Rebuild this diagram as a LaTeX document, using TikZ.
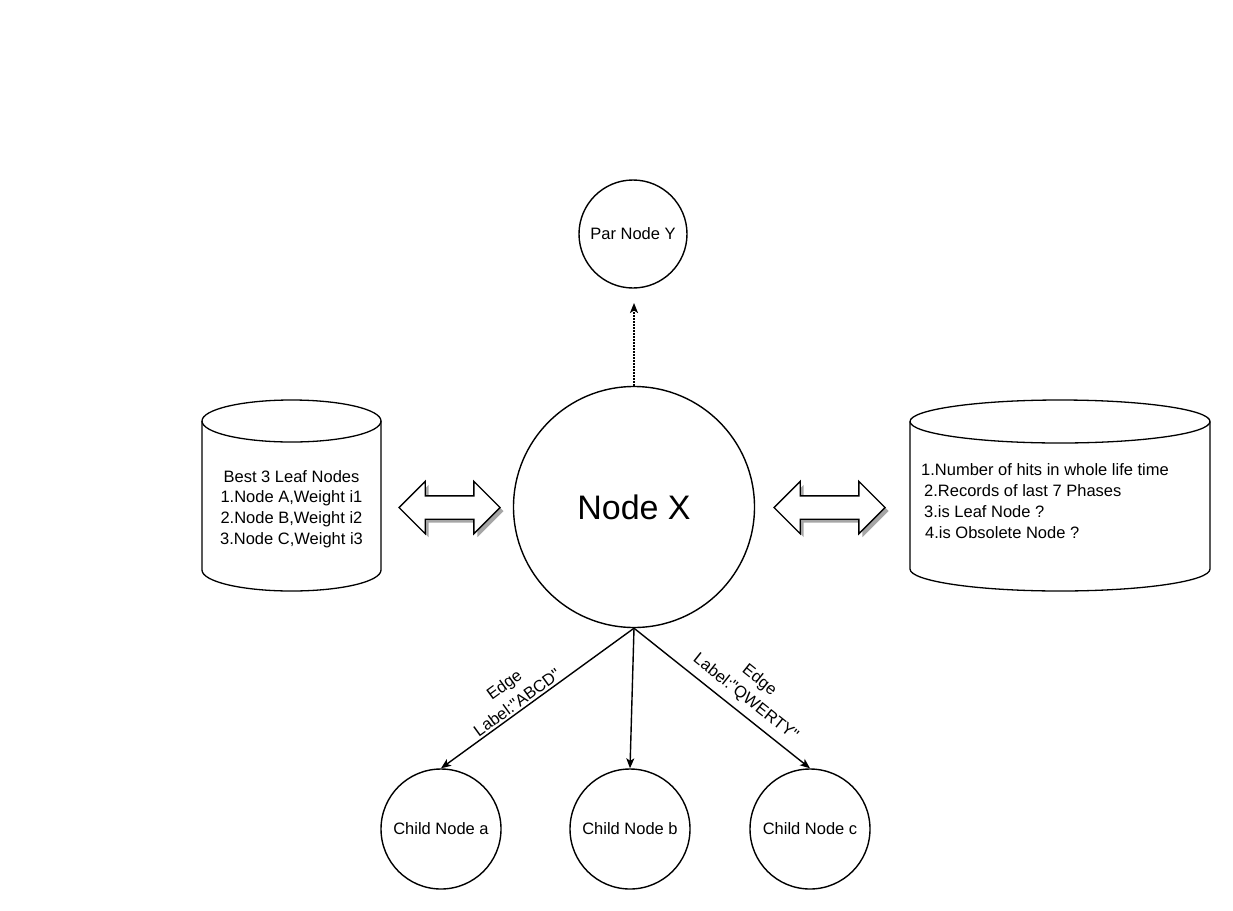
\documentclass[tikz,border=0pt]{standalone}
\usepackage{fontspec}
\setmainfont{Liberation Sans}
\newfontfamily\lsans{Liberation Sans}
\usetikzlibrary{arrows.meta,shapes.arrows,shadows}
\begin{document}
\begin{tikzpicture}[x=1pt,y=-1pt,
  circ/.style={draw,circle,line width=1.4pt,inner sep=0pt,font=\fontsize{16.5}{20}\selectfont},
  cyl/.style={line width=1.3pt},
  txt/.style={font=\fontsize{16.5}{20.8}\selectfont,inner sep=0pt},
  conn/.style={line width=1.4pt,-{Stealth[length=10pt,width=8pt,inset=2.5pt]}},
  darrow/.style={double arrow,draw,line width=1.4pt,fill=white,inner sep=0pt,inner ysep=11pt,
    double arrow head extend=14.5pt,minimum width=51pt,
    drop shadow={shadow xshift=3.5pt,shadow yshift=-3.5pt,fill=black!35,opacity=1}},
  elabel/.style={font=\lsans\fontsize{16.5}{22}\selectfont,align=center,inner sep=2pt}]
\useasboundingbox[fill=white] (0,0) rectangle (1233,910);

% main circles
\node[circ,minimum size=108pt] (py) at (633,234) {Par Node Y};
\node[circ,minimum size=241pt,font=\fontsize{34}{40}\selectfont] (nx) at (634,507) {Node X};
\node[circ,minimum size=120pt] (ca) at (441,829) {Child Node a};
\node[circ,minimum size=120pt] (cb) at (630,829) {Child Node b};
\node[circ,minimum size=120pt] (cc) at (810,829) {Child Node c};

% left cylinder
\draw[cyl] (202,421) -- (202,570) arc[start angle=180,end angle=0,x radius=89.5,y radius=21] -- (381,421);
\draw[cyl] (291.5,421) ellipse[x radius=89.5,y radius=21];
\node[txt,align=center] (lt) at (291.5,509) {Best 3 Leaf Nodes\\1.Node A,Weight i1\\2.Node B,Weight i2\\3.Node C,Weight i3};

% right cylinder
\draw[cyl] (910,421.5) -- (910,569) arc[start angle=180,end angle=0,x radius=150,y radius=22] -- (1210,421.5);
\draw[cyl] (1060,421.5) ellipse[x radius=150,y radius=21.5];
\node[txt,align=left,anchor=west] (rt) at (921,501) {1.Number of hits in whole life time\\\hspace*{3pt}2.Records of last 7 Phases\\\hspace*{3pt}3.is Leaf Node ?\\\hspace*{4pt}4.is Obsolete Node ?};

% double arrows
\node[darrow,minimum height=101pt] (la) at (449.5,507.5) {};
\node[darrow,minimum height=111pt] (ra) at (829.5,507.5) {};

% dotted arrow to parent
\coordinate (dtip) at (634,303);
\draw[line width=1.5pt,dash pattern=on 1.5pt off 1.5pt,-{Stealth[length=10pt,width=8pt,inset=2.5pt]}] (nx.north) -- (dtip);

% edges to children
\draw[conn] (nx.south) -- node[elabel,pos=0.58,sloped,above] {Edge\\Label:"ABCD"} (ca.north);
\draw[conn] (nx.south) -- (cb.north);
\draw[conn] (nx.south) -- node[elabel,pos=0.58,sloped,above,yshift=5pt] {Edge\\Label:"QWERTY"} (cc.north);
\end{tikzpicture}
\end{document}
